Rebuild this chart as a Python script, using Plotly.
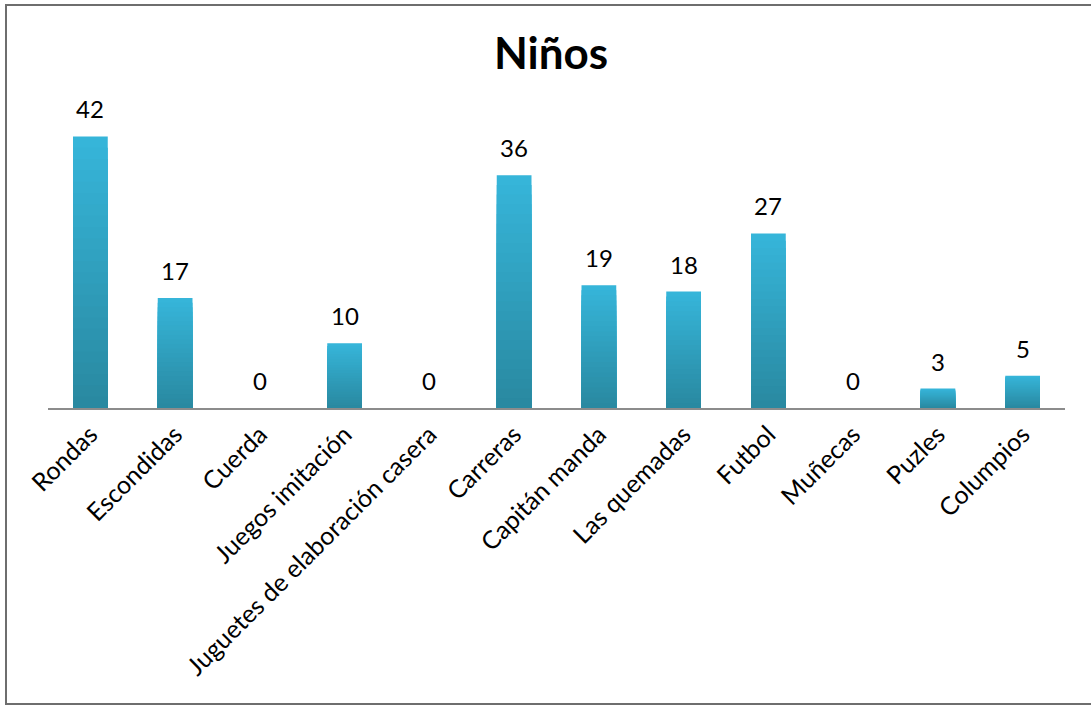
import plotly.graph_objects as go

categories = ["Rondas", "Escondidas", "Cuerda", "Juegos imitación",
              "Juguetes de elaboración casera", "Carreras", "Capitán manda",
              "Las quemadas", "Futbol", "Muñecas", "Puzles", "Columpios"]
values = [42, 17, 0, 10, 0, 36, 19, 18, 27, 0, 3, 5]
title_text = "Niños"

FONT = "Lato, Calibri, sans-serif"
TOP_RGB = (0x36, 0xB5, 0xD9)
BOT_RGB = (0x29, 0x89, 0xA1)
STEPS = 24

fig = go.Figure()
# gradient: overlay progressively shorter, darker bars (bar styling only)
for k in range(STEPS):
    frac = 1 - k / STEPS
    t = k / (STEPS - 1)
    col = "rgb(%d,%d,%d)" % tuple(round(a + (b - a) * t) for a, b in zip(TOP_RGB, BOT_RGB))
    fig.add_trace(go.Bar(
        x=categories, y=[v * frac for v in values],
        marker=dict(color=col, line=dict(width=0)),
        width=0.41,
        hoverinfo="skip" if k else "x+y",
    ))

for c, v in zip(categories, values):
    fig.add_annotation(x=c, y=v, text=str(v), showarrow=False,
                       yanchor="bottom", yshift=11,
                       font=dict(family=FONT, size=24, color="black"))

fig.update_layout(
    width=1091, height=709,
    margin=dict(l=48, r=26, t=117, b=301),
    paper_bgcolor="white", plot_bgcolor="white",
    showlegend=False, barmode="overlay",
    title=dict(text="<b>" + title_text + "</b>", x=551/1091, xanchor="center",
               y=1 - 54/709, yanchor="middle", yref="container",
               font=dict(family=FONT, size=44, color="black")),
    xaxis=dict(showline=True, linecolor="#8C8C8C", linewidth=2,
               ticks="", tickangle=-45, showgrid=False,
               tickfont=dict(family=FONT, size=25, color="black")),
    yaxis=dict(range=[0, 45], visible=False, showgrid=False, zeroline=False),
    shapes=[dict(type="rect", xref="paper", yref="paper",
                 x0=(6-48)/1017, x1=1.2, y0=(408-704)/291, y1=(408-5)/291,
                 line=dict(color="#6E6E6E", width=2), layer="below")],
)

fig.write_html("out.html", config={"displayModeBar": False},
               post_script="document.body.style.margin='0';")
